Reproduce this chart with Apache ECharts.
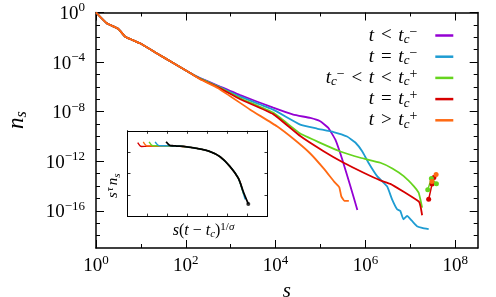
<!DOCTYPE html>
<html>
<head>
<meta charset="utf-8">
<script src="https://cdn.jsdelivr.net/npm/echarts@6/dist/echarts.min.js"></script>
<style>
  html, body { margin: 0; padding: 0; background: #fff; }
  #chart { width: 496px; height: 297px; }
</style>
</head>
<body>
<div id="chart"></div>
<script>
// shared small-s part of all curves
const headS = [1, 1.74, 3.16, 4.47, 9.55, 22.4, 52.5, 125];
const headN = [1, 0.135, 0.0468, 0.0112, 3.31e-3, 5.25e-4, 8.32e-5, 1.30e-5];

// t < tc-
const purpleS = [208, 525, 1.63e3, 8.83e3, 2.47e4, 5.90e4, 9.86e4, 1.49e5, 2.13e5, 3.05e5, 4.61e5, 6.61e5];
const purpleN = [5.14e-6, 1.24e-6, 2.13e-7, 2.10e-8, 5.75e-9, 3.13e-9, 1.67e-9, 4.91e-10, 5.69e-11, 1.39e-12, 9.93e-15, 1.17e-16];
// t = tc-
const blueS = [208, 525, 1.63e3, 8.83e3, 3.53e4, 8.34e4, 1.95e5, 3.89e5, 5.96e5, 8.53e5, 1.16e6, 1.82e6, 3.03e6, 3.92e6, 5.07e6, 6.00e6, 7.00e6, 8.45e6, 1.09e7, 1.41e7, 1.83e7, 2.56e7];
const blueN = [4.85e-6, 1.10e-6, 1.61e-7, 1.45e-8, 9.06e-10, 4.32e-10, 2.26e-10, 9.82e-11, 3.24e-11, 6.11e-12, 7.98e-13, 6.32e-14, 9.40e-15, 8.47e-16, 1.33e-16, 9.70e-17, 2.09e-17, 3.85e-17, 1.52e-17, 5.71e-18, 4.18e-18, 3.28e-18];
// tc- < t < tc+
const greenS = [208, 525, 1.63e3, 8.83e3, 3.53e4, 9.86e4, 2.75e5, 7.69e5, 2.15e6, 3.98e6, 7.11e6, 1.19e7, 1.53e7, 1.67e7, 1.83e7];
const greenN = [4.59e-6, 1.01e-6, 1.22e-7, 8.34e-9, 1.71e-10, 3.06e-11, 6.11e-12, 1.91e-12, 7.55e-13, 2.63e-13, 6.32e-14, 9.93e-15, 2.92e-15, 8.47e-16, 1.82e-16];
// t = tc+
const redS = [208, 525, 1.63e3, 8.83e3, 3.53e4, 1.17e5, 3.27e5, 9.12e5, 2.15e6, 3.59e6, 7.11e6, 1.41e7, 1.59e7, 1.72e7, 1.83e7];
const redN = [4.35e-6, 9.18e-7, 1.01e-7, 6.32e-9, 1.08e-10, 6.46e-12, 7.55e-13, 1.19e-13, 2.85e-14, 1.49e-14, 3.40e-15, 7.03e-16, 4.85e-16, 1.60e-16, 4.38e-17];
// t > tc+
const orangeS = [208, 525, 2.72e3, 1.07e4, 2.60e4, 5.90e4, 1.17e5, 2.03e5, 2.62e5, 2.90e5, 3.39e5, 4.27e5];
const orangeN = [4.11e-6, 7.78e-7, 1.45e-8, 6.61e-10, 5.64e-11, 4.22e-12, 2.63e-13, 2.16e-14, 7.80e-15, 1.48e-15, 6.41e-16, 6.41e-16];

// the few big clusters at the far right
const redDotS = [2.56e7, 3.05e7, 3.35e7];
const redDotN = [8.47e-16, 1.49e-14, 4.97e-14];
const greenDotS = [2.44e7, 2.94e7, 3.81e7];
const greenDotN = [4.91e-15, 4.13e-14, 1.55e-14];
const orangeDotS = [3.03e7, 3.75e7];
const orangeDotN = [2.37e-14, 8.65e-14];

// inset (scaling collapse), arbitrary units
const insetPlateau = [[2.46, 3.29], [2.96, 3.25], [3.46, 3.18], [4.13, 3.03], [4.63, 2.79], [5.13, 2.33], [5.54, 1.79]];
const insetRedHook = [[0.51, 3.45], [0.70, 3.27], [1.00, 3.28]];
const insetOrangeHook = [[0.79, 3.48], [0.98, 3.29], [1.30, 3.29]];
const insetGreenHook = [[1.08, 3.48], [1.27, 3.30], [1.60, 3.30]];
const insetBlueHook = [[1.38, 3.48], [1.57, 3.31], [1.90, 3.30]];
const insetBlackHook = [[1.93, 3.49], [2.10, 3.33], [2.30, 3.30]];
const insetRedTail = [[5.70, 1.40]];
const insetOrangeTail = [[5.75, 1.25]];
const insetGreenTail = [[5.80, 1.05]];
const insetBlueTail = [[5.88, 0.80]];
const insetBlackTail = [[5.79, 1.16], [6.04, 0.59]];

// ticks
const majorX = [1, 1e2, 1e4, 1e6, 1e8];
const minorX = [10, 1e3, 1e5, 1e7];
const majorY = [1e-16, 1e-12, 1e-8, 1e-4, 1];
const minorY = [1e-18, 1e-17, 1e-15, 1e-14, 1e-13, 1e-11, 1e-10, 1e-9, 1e-7, 1e-6, 1e-5, 1e-3, 1e-2, 1e-1];

const C = { purple: '#9400D3', blue: '#1E9CD2', green: '#66D41E', red: '#D70000', orange: '#FF6A13' };
const FONT = '"Liberation Serif", "DejaVu Serif", serif';

function pairs(xs, ys) { return xs.map((x, i) => [x, ys[i]]); }
function pow10Label(v) {
  const e = Math.round(Math.log10(v));
  return '{b|10}{e|' + String(e).replace('-', '\u2212') + '}';
}

const expRich = {
  b: { fontFamily: FONT, fontSize: 19, lineHeight: 22, verticalAlign: 'bottom', color: '#000' },
  e: { fontFamily: FONT, fontSize: 13, lineHeight: 13, verticalAlign: 'top', color: '#000' }
};
const mathRich = {
  i: { fontFamily: FONT, fontStyle: 'italic', fontSize: 19, lineHeight: 21, color: '#000' },
  o: { fontFamily: FONT, fontSize: 19, lineHeight: 21, padding: [0, 2, 0, 2], color: '#000' },
  sub: { fontFamily: FONT, fontStyle: 'italic', fontSize: 13, lineHeight: 11, verticalAlign: 'bottom', color: '#000' },
  sup: { fontFamily: FONT, fontSize: 14, lineHeight: 11, verticalAlign: 'top', color: '#000' },
  pad: { width: 13, lineHeight: 21 }
};

const legendText = {
  lt: '{i|t}{o| < }{i|t}{sub|c}{sup|\u2212}{pad|}',
  eqm: '{i|t}{o| = }{i|t}{sub|c}{sup|\u2212}{pad|}',
  mid: '{i|t}{sub|c}{sup|\u2212}{o| < }{i|t}{o| < }{i|t}{sub|c}{sup|+}{pad|}',
  eqp: '{i|t}{o| = }{i|t}{sub|c}{sup|+}{pad|}',
  gt: '{i|t}{o| > }{i|t}{sub|c}{sup|+}{pad|}'
};

const mainGrid = { left: 96, top: 12.5, right: 18.3, bottom: 49, outerBoundsMode: 'none' };
const insetGrid = { left: 127.5, top: 130.8, width: 140, height: 85.8, outerBoundsMode: 'none' };

function logX(grid, pos, ticks, len, extra) {
  return Object.assign({
    gridIndex: grid, type: 'log', position: pos, min: 1, max: 3.1623e8,
    axisLine: { show: grid === 0, onZero: false, lineStyle: { color: '#000', width: 1.5 } },
    axisTick: { show: true, inside: true, length: len, customValues: ticks, lineStyle: { color: '#000', width: 1 } },
    axisLabel: { show: false },
    splitLine: { show: false }, minorTick: { show: false }
  }, extra || {});
}
function logY(grid, pos, ticks, len, extra) {
  return Object.assign({
    gridIndex: grid, type: 'log', position: pos, min: 1e-19, max: 1,
    axisLine: { show: grid === 0, onZero: false, lineStyle: { color: '#000', width: 1.5 } },
    axisTick: { show: true, inside: true, length: len, customValues: ticks, lineStyle: { color: '#000', width: 1 } },
    axisLabel: { show: false },
    splitLine: { show: false }, minorTick: { show: false }
  }, extra || {});
}
function insetAxis(pos, max, extra) {
  return Object.assign({
    gridIndex: 2, type: 'value', position: pos, min: 0, max: max, interval: 1,
    axisLine: { show: true, onZero: false, lineStyle: { color: '#000', width: 1 } },
    axisTick: { show: true, inside: true, length: 3, lineStyle: { color: '#000', width: 0.8 } },
    axisLabel: { show: false }, splitLine: { show: false }
  }, extra || {});
}

function curve(name, color, s, n) {
  return {
    name: name, type: 'line', xAxisIndex: 0, yAxisIndex: 0,
    data: pairs(headS.concat(s), headN.concat(n)),
    symbol: 'none', smooth: 0.12, clip: true,
    lineStyle: { color: color, width: 1.8 }, itemStyle: { color: color }
  };
}
function dots(color, s, n) {
  return {
    type: 'line', xAxisIndex: 0, yAxisIndex: 0, data: pairs(s, n),
    symbol: 'circle', symbolSize: 5, showSymbol: true,
    lineStyle: { color: color, width: 1.5 }, itemStyle: { color: color }
  };
}
function insetCurve(color, hook, tail, width) {
  return {
    type: 'line', xAxisIndex: 4, yAxisIndex: 4,
    data: hook.concat(insetPlateau, tail),
    symbol: 'none', smooth: 0.3,
    lineStyle: { color: color, width: width }, itemStyle: { color: color }
  };
}

const chart = echarts.init(document.getElementById('chart'), null, { renderer: 'canvas' });
chart.setOption({
  animation: false,
  backgroundColor: '#fff',
  textStyle: { fontFamily: FONT },
  grid: [mainGrid, mainGrid, insetGrid],
  legend: {
    data: ['lt', 'eqm', 'mid', 'eqp', 'gt'],
    orient: 'vertical', align: 'right', right: 42.7, top: 25, padding: 0, itemGap: 0.2,
    icon: 'rect', itemWidth: 18, itemHeight: 2.5, selectedMode: false,
    formatter: name => legendText[name],
    textStyle: { rich: mathRich }
  },
  xAxis: [
    logX(0, 'bottom', majorX, 8, {
      axisLabel: { show: true, customValues: majorX, formatter: pow10Label, rich: expRich, margin: 6 },
      name: '{i|s}', nameLocation: 'middle', nameGap: 17,
      nameTextStyle: { rich: { i: { fontFamily: FONT, fontStyle: 'italic', fontSize: 21, color: '#000' } } }
    }),
    logX(0, 'top', majorX, 8),
    logX(1, 'bottom', minorX, 4),
    logX(1, 'top', minorX, 4),
    insetAxis('bottom', 7, {
      name: '{i|s}{o|(}{i|t}{o| \u2212 }{i|t}{sb|c}{o|)}{sp|1/}{spi|\u03c3}',
      nameLocation: 'middle', nameGap: 5,
      nameTextStyle: { padding: [0, 0, 0, 12], rich: {
        i: { fontFamily: FONT, fontStyle: 'italic', fontSize: 16, lineHeight: 18, color: '#000' },
        o: { fontFamily: FONT, fontSize: 16, lineHeight: 18, color: '#000' },
        sb: { fontFamily: FONT, fontStyle: 'italic', fontSize: 11, lineHeight: 9, verticalAlign: 'bottom', color: '#000' },
        sp: { fontFamily: FONT, fontSize: 11, lineHeight: 9, verticalAlign: 'top', color: '#000' },
        spi: { fontFamily: FONT, fontStyle: 'italic', fontSize: 11, lineHeight: 9, verticalAlign: 'top', color: '#000' }
      } }
    }),
    insetAxis('top', 7)
  ],
  yAxis: [
    logY(0, 'left', majorY, 8, {
      axisLabel: { show: true, customValues: majorY, formatter: pow10Label, rich: expRich, margin: 11 },
      name: '{i|n}{sb|s}', nameLocation: 'middle', nameGap: 66,
      nameTextStyle: { padding: [0, 0, 0, 20], rich: {
        i: { fontFamily: FONT, fontStyle: 'italic', fontSize: 23, lineHeight: 26, color: '#000' },
        sb: { fontFamily: FONT, fontStyle: 'italic', fontSize: 16, lineHeight: 14, verticalAlign: 'bottom', color: '#000' }
      } }
    }),
    logY(0, 'right', majorY, 8),
    logY(1, 'left', minorY, 4),
    logY(1, 'right', minorY, 4),
    insetAxis('left', 4, {
      name: '{i|s}{sp|\u03c4}{i|n}{sb|s}', nameLocation: 'middle', nameGap: 5,
      nameTextStyle: { padding: [0, 24, 0, 0], rich: {
        i: { fontFamily: FONT, fontStyle: 'italic', fontSize: 15, lineHeight: 18, color: '#000' },
        sb: { fontFamily: FONT, fontStyle: 'italic', fontSize: 11, lineHeight: 9, verticalAlign: 'bottom', color: '#000' },
        sp: { fontFamily: FONT, fontStyle: 'italic', fontSize: 11, lineHeight: 9, verticalAlign: 'top', padding: [0, 2, 0, 1], color: '#000' }
      } }
    }),
    insetAxis('right', 4)
  ],
  series: [
    curve('lt', C.purple, purpleS, purpleN),
    curve('eqm', C.blue, blueS, blueN),
    curve('mid', C.green, greenS, greenN),
    curve('eqp', C.red, redS, redN),
    curve('gt', C.orange, orangeS, orangeN),
    dots(C.red, redDotS, redDotN),
    dots(C.green, greenDotS, greenDotN),
    dots(C.orange, orangeDotS, orangeDotN),
    insetCurve(C.red, insetRedHook, insetRedTail, 1.4),
    insetCurve(C.orange, insetOrangeHook, insetOrangeTail, 1.4),
    insetCurve(C.green, insetGreenHook, insetGreenTail, 1.4),
    insetCurve(C.blue, insetBlueHook, insetBlueTail, 1.4),
    insetCurve('#000', insetBlackHook, insetBlackTail, 1.8),
    {
      type: 'scatter', xAxisIndex: 4, yAxisIndex: 4, symbolSize: 4,
      data: insetBlackTail.slice(-1), itemStyle: { color: '#000' }
    }
  ]
});
</script>
</body>
</html>
